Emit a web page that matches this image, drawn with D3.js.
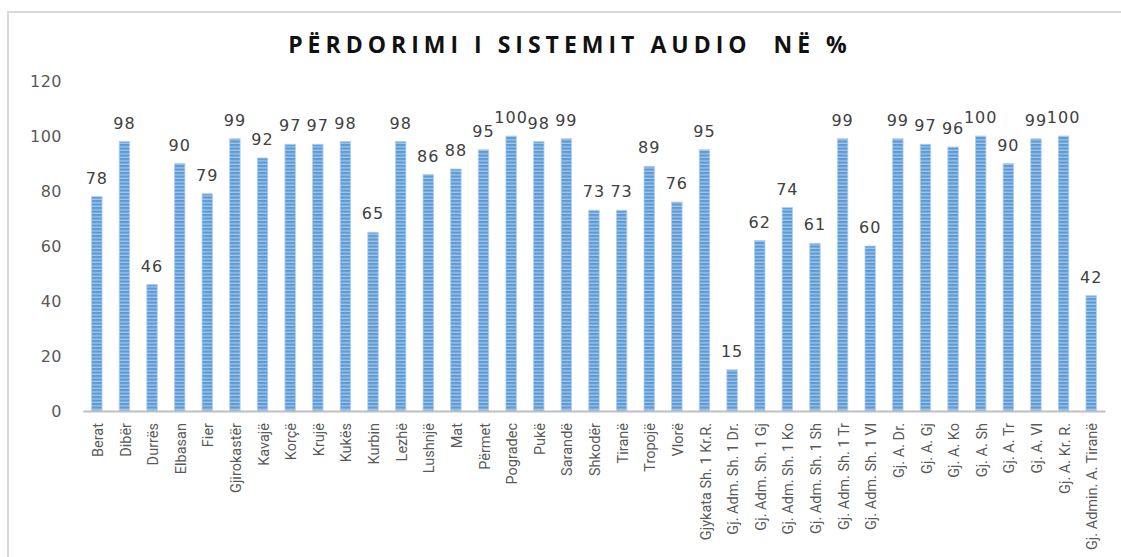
<!DOCTYPE html>
<html>
<head>
<meta charset="utf-8">
<script src="https://cdn.jsdelivr.net/npm/d3@7"></script>
<style>
  body { margin: 0; background: #fff; }
  svg { display: block; }
</style>
</head>
<body>
<div id="chart"></div>
<script>
// categories and values (percent)
const categories = ["Berat", "Dibër", "Durrës", "Elbasan", "Fier", "Gjirokastër", "Kavajë", "Korçë",
  "Krujë", "Kukës", "Kurbin", "Lezhë", "Lushnjë", "Mat", "Përmet", "Pogradec", "Pukë", "Sarandë",
  "Shkodër", "Tiranë", "Tropojë", "Vlorë", "Gjykata Sh. 1 Kr.R.", "Gj. Adm. Sh. 1 Dr.",
  "Gj. Adm. Sh. 1 Gj", "Gj. Adm. Sh. 1 Ko", "Gj. Adm. Sh. 1 Sh", "Gj. Adm. Sh. 1 Tr",
  "Gj. Adm. Sh. 1 Vl", "Gj. A. Dr.", "Gj. A. Gj", "Gj. A. Ko", "Gj. A. Sh", "Gj. A. Tr",
  "Gj. A. Vl", "Gj. A. Kr. R.", "Gj. Admin. A. Tiranë"];
const values = [78, 98, 46, 90, 79, 99, 92, 97, 97, 98, 65, 98, 86, 88, 95, 100, 98, 99,
  73, 73, 89, 76, 95, 15, 62, 74, 61, 99, 60, 99, 97, 96, 100, 90, 99, 100, 42];
const yTicks = [0, 20, 40, 60, 80, 100, 120];
const title = "PËRDORIMI I SISTEMIT AUDIO  NË %";

const W = 1121, H = 557;
const margin = {top: 81, right: 16, bottom: 146, left: 83};

const svg = d3.select("#chart").append("svg")
  .attr("width", W)
  .attr("height", H);

// striped fill for the bars
const defs = svg.append("defs");
const pat = defs.append("pattern")
  .attr("id", "stripes")
  .attr("patternUnits", "userSpaceOnUse")
  .attr("width", 20)
  .attr("height", 3.5);
pat.append("rect").attr("width", 20).attr("height", 3.5).attr("fill", "#a3c5ea");
pat.append("rect").attr("width", 20).attr("height", 2.2).attr("fill", "#5b9bd5");

// chart frame
svg.append("rect")
  .attr("x", 8).attr("y", 12)
  .attr("width", W + 20).attr("height", H + 20)
  .attr("fill", "none")
  .attr("stroke", "#d9d9d9")
  .attr("stroke-width", 2);

svg.append("text")
  .attr("x", 570)
  .attr("y", 53)
  .attr("text-anchor", "middle")
  .style("font-family", "'Open Sans', sans-serif")
  .style("font-weight", "bold")
  .style("font-size", "23px")
  .style("letter-spacing", "5px")
  .style("white-space", "pre")
  .attr("fill", "#111")
  .text(title);

const g = svg.append("g")
  .attr("transform", `translate(${margin.left},${margin.top})`);

const width = 1105 - margin.left,
      height = 411 - margin.top;

const x = d3.scaleBand()
  .domain(categories)
  .range([0, width])
  .paddingInner(0.62)
  .paddingOuter(0.31);

const y = d3.scaleLinear()
  .domain([0, 120])
  .range([height, 0]);

// Y axis (labels only)
const yAxis = g.append("g")
  .call(d3.axisLeft(y).tickValues(yTicks).tickSize(0).tickPadding(21));
yAxis.select(".domain").remove();
yAxis.selectAll("text")
  .style("font-family", "'DejaVu Sans', sans-serif")
  .style("font-size", "16px")
  .style("letter-spacing", "0.5px")
  .attr("fill", "#595959");

// bars
g.selectAll(".bar")
  .data(values)
  .join("rect")
    .attr("class", "bar")
    .attr("x", (d, i) => x(categories[i]))
    .attr("y", d => y(d))
    .attr("width", x.bandwidth())
    .attr("height", d => height - y(d))
    .attr("fill", "url(#stripes)")
    .attr("stroke", "#b4d0ef")
    .attr("stroke-width", 0.8);

// value labels
g.selectAll(".val")
  .data(values)
  .join("text")
    .attr("class", "val")
    .attr("x", (d, i) => x(categories[i]) + x.bandwidth() / 2)
    .attr("y", d => y(d) - 13)
    .attr("text-anchor", "middle")
    .style("font-family", "'DejaVu Sans', sans-serif")
    .style("font-size", "16px")
    .style("letter-spacing", "1px")
    .attr("fill", "#404040")
    .text(d => d);

// X axis
const xAxis = g.append("g")
  .attr("transform", `translate(0,${height})`)
  .call(d3.axisBottom(x).tickSize(0).tickSizeOuter(0));
xAxis.select(".domain")
  .attr("stroke", "#bfbfbf")
  .attr("stroke-width", 2);
xAxis.selectAll("text")
  .attr("transform", "rotate(-90)")
  .attr("x", -12)
  .attr("y", 1)
  .attr("dy", "0.35em")
  .attr("text-anchor", "end")
  .style("font-family", "Roboto, sans-serif")
  .style("font-size", "14.5px")
  .attr("fill", "#595959");
</script>
</body>
</html>
